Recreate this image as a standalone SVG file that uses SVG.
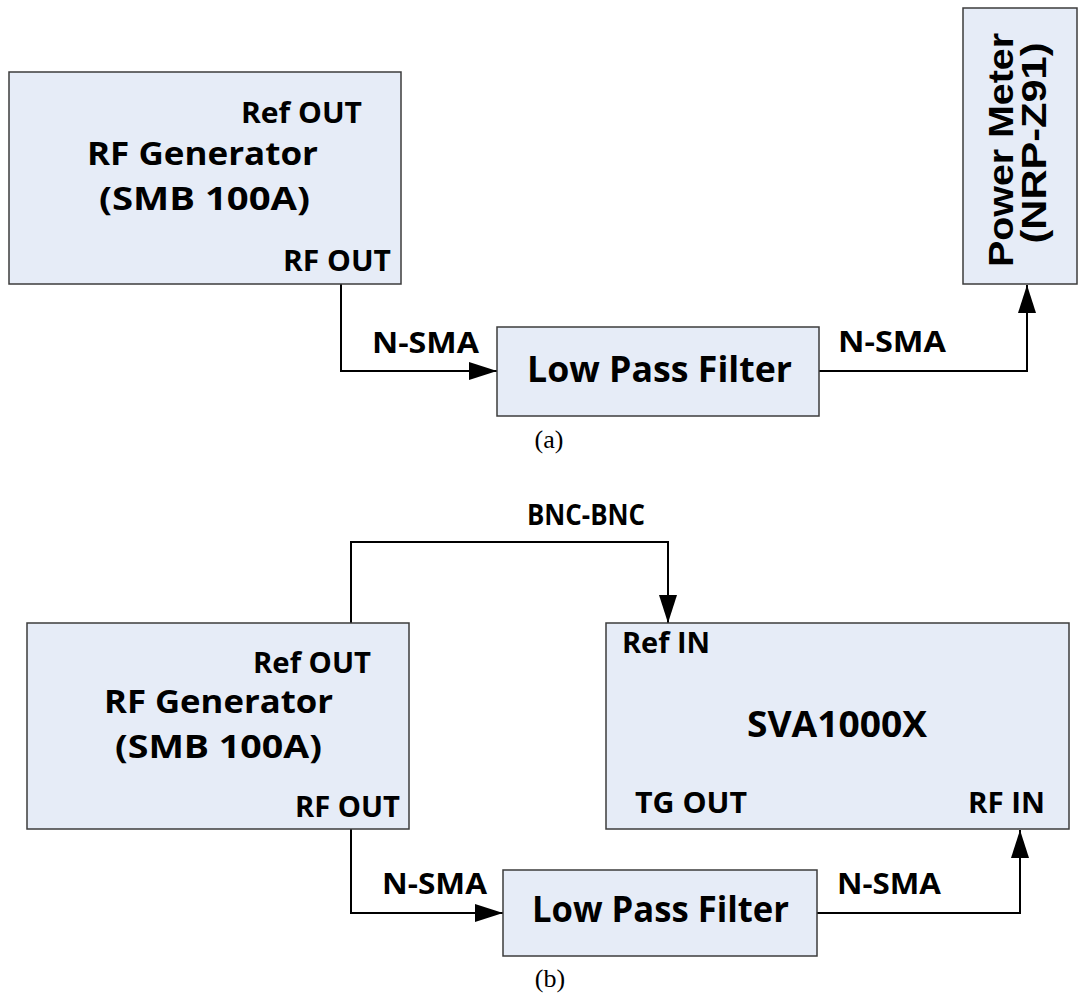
<svg xmlns="http://www.w3.org/2000/svg" width="1083" height="994" viewBox="0 0 1083 994">
<style>
.box{fill:#E6ECF7;stroke:#3C3C3C;stroke-width:1.5}
.t{font-family:"Open Sans","Noto Sans",sans-serif;font-weight:bold;fill:#000}
.big{font-size:36px}
.two{font-size:33px}
.port{font-size:28px}
.pm{font-family:"Liberation Sans",Arial,sans-serif;font-weight:bold;font-size:35px;fill:#000}
.cap{font-family:"Liberation Serif","Times New Roman",serif;font-size:26px;fill:#000}
.wire{fill:none;stroke:#000;stroke-width:2}
</style>
<defs>
<marker id="arr" markerUnits="userSpaceOnUse" markerWidth="28" markerHeight="18" refX="28" refY="9" orient="auto">
<path d="M0,0 L28,9 L0,18 Z" fill="#000"/>
</marker>
</defs>
<rect width="1083" height="994" fill="#fff"/>

<g id="connectors">
<path class="wire" d="M341,284 V371 H497" marker-end="url(#arr)"/>
<path class="wire" d="M819,371 H1027 V285" marker-end="url(#arr)"/>
<path class="wire" d="M351,623 V542 H668 V623" marker-end="url(#arr)"/>
<path class="wire" d="M351,829 V913 H503" marker-end="url(#arr)"/>
<path class="wire" d="M817,913 H1020 V830" marker-end="url(#arr)"/>
<text class="t port" x="372" y="353" textLength="107" lengthAdjust="spacingAndGlyphs">N-SMA</text>
<text class="t port" x="838" y="352" textLength="108" lengthAdjust="spacingAndGlyphs">N-SMA</text>
<text class="t port" x="527" y="525" textLength="118" lengthAdjust="spacingAndGlyphs">BNC-BNC</text>
<text class="t port" x="382" y="894" textLength="105" lengthAdjust="spacingAndGlyphs">N-SMA</text>
<text class="t port" x="837" y="894" textLength="104" lengthAdjust="spacingAndGlyphs">N-SMA</text>
</g>

<g id="rfgen-a">
<rect class="box" x="9" y="72" width="392" height="212"/>
<text class="t port" x="241" y="123" textLength="121" lengthAdjust="spacingAndGlyphs">Ref OUT</text>
<text class="t two" x="87" y="165" textLength="231" lengthAdjust="spacingAndGlyphs">RF Generator</text>
<text class="t two" x="99" y="210" textLength="211" lengthAdjust="spacingAndGlyphs">(SMB 100A)</text>
<text class="t port" x="283" y="271" textLength="108" lengthAdjust="spacingAndGlyphs">RF OUT</text>
</g>

<g id="powermeter">
<rect class="box" x="963" y="8" width="114" height="276"/>
<text class="pm" x="1013" y="150" text-anchor="middle" transform="rotate(-90 1013 150)" textLength="234" lengthAdjust="spacingAndGlyphs">Power Meter</text>
<text class="pm" x="1046" y="143" text-anchor="middle" transform="rotate(-90 1046 143)" textLength="201" lengthAdjust="spacingAndGlyphs">(NRP-Z91)</text>
</g>

<g id="lpf-a">
<rect class="box" x="497" y="327" width="322" height="89"/>
<text class="t big" x="527" y="382" textLength="265" lengthAdjust="spacingAndGlyphs">Low Pass Filter</text>
</g>

<text class="cap" x="549" y="448" text-anchor="middle">(a)</text>

<g id="rfgen-b">
<rect class="box" x="27" y="623" width="382" height="206"/>
<text class="t port" x="253" y="673" textLength="118" lengthAdjust="spacingAndGlyphs">Ref OUT</text>
<text class="t two" x="104" y="713" textLength="229" lengthAdjust="spacingAndGlyphs">RF Generator</text>
<text class="t two" x="115" y="758" textLength="207" lengthAdjust="spacingAndGlyphs">(SMB 100A)</text>
<text class="t port" x="295" y="817" textLength="105" lengthAdjust="spacingAndGlyphs">RF OUT</text>
</g>

<g id="sva">
<rect class="box" x="606" y="623" width="463" height="206"/>
<text class="t port" x="622" y="653" textLength="88" lengthAdjust="spacingAndGlyphs">Ref IN</text>
<text class="t big" x="747" y="737" textLength="180" lengthAdjust="spacingAndGlyphs">SVA1000X</text>
<text class="t port" x="635" y="813" textLength="112" lengthAdjust="spacingAndGlyphs">TG OUT</text>
<text class="t port" x="968" y="813" textLength="77" lengthAdjust="spacingAndGlyphs">RF IN</text>
</g>

<g id="lpf-b">
<rect class="box" x="503" y="870" width="314" height="86"/>
<text class="t big" x="532" y="922" textLength="257" lengthAdjust="spacingAndGlyphs">Low Pass Filter</text>
</g>

<text class="cap" x="550" y="987" text-anchor="middle">(b)</text>
</svg>
